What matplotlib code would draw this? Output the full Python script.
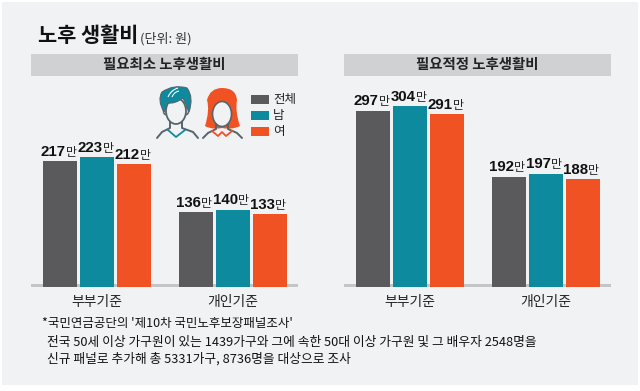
import matplotlib.pyplot as plt
from matplotlib.patches import Rectangle, Ellipse, PathPatch
from matplotlib.path import Path

plt.rcParams['font.family'] = ['Noto Sans CJK KR', 'DejaVu Sans']

W, H = 640, 391
GRAY = '#5a5a5c'
TEAL = '#0d8a9e'
ORANGE = '#f15224'
BG = '#f1f2f4'
LINE = '#55656e'

categories = ['부부기준', '개인기준']
series_names = ['전체', '남', '여']
colors = [GRAY, TEAL, ORANGE]

minimum_total = [217, 136]
minimum_male = [223, 140]
minimum_female = [212, 133]
proper_total = [297, 192]
proper_male = [304, 197]
proper_female = [291, 188]

title = '노후 생활비'
unit = '(단위: 원)'
panel_titles = ['필요최소 노후생활비', '필요적정 노후생활비']
notes = ["*국민연금공단의 '제10차 국민노후보장패널조사'",
         '전국 50세 이상 가구원이 있는 1439가구와 그에 속한 50대 이상 가구원 및 그 배우자 2548명을',
         '신규 패널로 추가해 총 5331가구, 8736명을 대상으로 조사']


def make_axes(fig, left, right, bottom=287, top=87):
    ax = fig.add_axes([left / W, 1 - bottom / H, (right - left) / W, (bottom - top) / H])
    ax.patch.set_alpha(0)
    return ax


def draw_panel(ax, values):
    # 135.5 px between the groups, 37 px between bars, axes 267 px wide
    ax.set_xlim(-0.487, 1.483)
    ax.set_ylim(17, 17 + 200 / 0.63)
    for i, vals in enumerate(values):
        for j, cat in enumerate(categories):
            x = j + (i - 1) * 0.273
            ax.bar(x, vals[j], width=0.251, color=colors[i], zorder=3)
            ax.annotate(str(vals[j]), (x, vals[j]), xytext=(3.9, 3.9), textcoords='offset points',
                        ha='right', va='baseline', fontsize=10.8, fontweight='bold',
                        family='Liberation Sans', color='#111111')
            ax.annotate('만', (x, vals[j]), xytext=(4.2, 3.9), textcoords='offset points',
                        ha='left', va='baseline', fontsize=8.6, color='#222222')
    for s in ax.spines.values():
        s.set_visible(False)
    ax.set_yticks([])
    ax.set_xticks([0, 1])
    ax.set_xticklabels(categories, fontsize=10, color='#222222')
    ax.tick_params(axis='x', length=0, pad=6)


def curve(ov, pts, codes, **kw):
    ov.add_patch(PathPatch(Path(pts, codes), **kw))


def draw_man(ov):
    M, C = Path.MOVETO, Path.CURVE3
    ov.add_patch(Ellipse((176, 111), 20, 26, fc=BG, ec=LINE, lw=1.3, zorder=2))
    ov.add_patch(Ellipse((165.5, 111), 4, 7, fc=BG, ec=LINE, lw=1.1, zorder=1))
    ov.add_patch(Ellipse((186.5, 111), 4, 7, fc=BG, ec=LINE, lw=1.1, zorder=1))
    curve(ov, [(164, 112), (157, 100), (162, 92), (174, 84), (187, 88), (194, 97), (189, 112),
               (186, 104), (183, 98), (175, 104), (168, 103), (166, 107), (164, 112)],
          [M, C, C, C, C, C, C, C, C, C, C, C, C], fc=TEAL, ec=LINE, lw=0.8, zorder=3)
    curve(ov, [(168, 97), (171, 90), (178, 88)], [M, C, C], fc='none', ec='white', lw=0.8, zorder=4)
    curve(ov, [(172, 97), (174, 92), (179, 91)], [M, C, C], fc='none', ec='white', lw=0.8, zorder=4)
    ov.plot([157, 162, 170, 170], [138, 132, 128, 122], color=LINE, lw=1.4,
            solid_capstyle='round', zorder=2)
    ov.plot([198, 193, 182, 182], [138, 132, 128, 122], color=LINE, lw=1.4,
            solid_capstyle='round', zorder=2)
    ov.plot([168, 176, 185], [130, 137, 130], color=TEAL, lw=1.3, zorder=3)


def draw_woman(ov):
    M, C = Path.MOVETO, Path.CURVE3
    curve(ov, [(205, 126), (210, 110), (207, 100), (210, 88), (222, 88), (236, 88), (237, 100),
               (235, 112), (240, 126), (232, 130), (222, 128), (212, 130), (205, 126)],
          [M, C, C, C, C, C, C, C, C, C, C, C, C], fc=ORANGE, ec='none', zorder=2)
    ov.add_patch(Ellipse((222, 114), 19, 25, fc=BG, ec=LINE, lw=1.2, zorder=3))
    curve(ov, [(212, 110), (213, 99), (224, 96), (231, 100), (232, 110), (236, 96), (222, 90),
               (208, 96), (212, 110)],
          [M, C, C, C, C, C, C, C, C], fc=ORANGE, ec='none', zorder=4)
    ov.plot([203, 208, 216, 216], [138, 133, 129, 124], color=LINE, lw=1.4,
            solid_capstyle='round', zorder=4)
    ov.plot([242, 237, 228, 228], [138, 133, 129, 124], color=LINE, lw=1.4,
            solid_capstyle='round', zorder=4)
    ov.plot([212, 218, 222, 226, 232], [131, 136, 132, 136, 131], color=ORANGE, lw=1.3, zorder=5)


fig = plt.figure(figsize=(W / 100, H / 100), dpi=100, facecolor='white')

# background, header bars, title, notes and icons are drawn in pixel coords
ov = fig.add_axes([0, 0, 1, 1])
ov.set_xlim(0, W)
ov.set_ylim(H, 0)
ov.axis('off')
ov.add_patch(Rectangle((2, 2), 636, 383, fc=BG, ec='none', zorder=0))
for left, text in zip([31, 344], panel_titles):
    ov.add_patch(Rectangle((left, 54), 267, 22, fc='#d0d1d3', ec='none', zorder=1))
    ov.add_patch(Rectangle((left, 284), 267, 3, fc='#c4c5c7', ec='none', zorder=1))
    ov.text(left + 133.5, 64.5, text, ha='center', va='center', fontsize=10.4, fontweight='bold', color='#222222')

ov.text(38, 35, title, ha='left', va='center', fontsize=15, fontweight='bold', color='#111111')
ov.text(140, 38.5, unit, ha='left', va='center', fontsize=9.4, color='#333333')

draw_man(ov)
draw_woman(ov)

for y, name, c in zip([99, 115, 131.5], series_names, colors):
    ov.add_patch(Rectangle((251, y - 4.5), 18, 9, fc=c, ec='none', zorder=2))
    ov.text(273, y, name, ha='left', va='center', fontsize=9, color='#222222')

ov.text(42, 324, notes[0], ha='left', va='center', fontsize=9, color='#111111')
ov.text(47, 342.5, notes[1], ha='left', va='center', fontsize=9.2, color='#111111')
ov.text(47, 359, notes[2], ha='left', va='center', fontsize=9.2, color='#111111')

ax1 = make_axes(fig, 31, 298)
draw_panel(ax1, [minimum_total, minimum_male, minimum_female])
ax2 = make_axes(fig, 344, 611)
draw_panel(ax2, [proper_total, proper_male, proper_female])

fig.savefig('out.png', dpi=100)
